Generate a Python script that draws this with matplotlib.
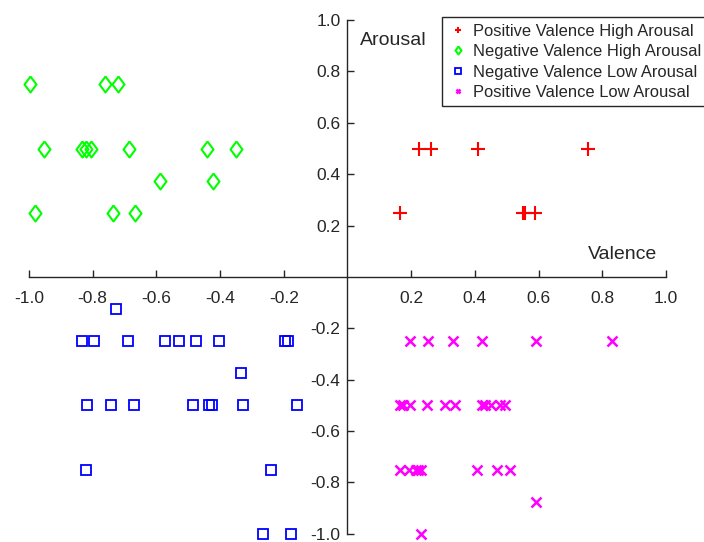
import numpy as np
import matplotlib
matplotlib.use("Agg")
import matplotlib.pyplot as plt

plt.rcParams['font.family'] = ['Liberation Sans', 'DejaVu Sans']

# Positive Valence High Arousal
pvha_x = [0.224, 0.262, 0.411, 0.755, 0.166, 0.551, 0.558, 0.588]
pvha_y = [0.5, 0.5, 0.5, 0.5, 0.25, 0.25, 0.25, 0.25]

# Negative Valence High Arousal
nvha_x = [-0.996, -0.760, -0.720, -0.952, -0.834, -0.821, -0.806, -0.686,
          -0.442, -0.349, -0.587, -0.423, -0.980, -0.736, -0.668]
nvha_y = [0.75, 0.75, 0.75, 0.5, 0.5, 0.5, 0.5, 0.5,
          0.5, 0.5, 0.375, 0.375, 0.25, 0.25, 0.25]

# Negative Valence Low Arousal
nvla_x = [-0.725,
          -0.834, -0.797, -0.690, -0.574, -0.530, -0.474, -0.402, -0.196, -0.185,
          -0.334,
          -0.816, -0.742, -0.669, -0.485, -0.434, -0.426, -0.329, -0.158,
          -0.821, -0.241,
          -0.264, -0.177]
nvla_y = [-0.125,
          -0.25, -0.25, -0.25, -0.25, -0.25, -0.25, -0.25, -0.25, -0.25,
          -0.375,
          -0.5, -0.5, -0.5, -0.5, -0.5, -0.5, -0.5, -0.5,
          -0.75, -0.75,
          -1.0, -1.0]

# Positive Valence Low Arousal
pvla_x = [0.197, 0.253, 0.332, 0.421, 0.592, 0.832,
          0.166, 0.176, 0.197, 0.249, 0.307, 0.338, 0.422, 0.432, 0.450, 0.478, 0.496,
          0.166, 0.192, 0.216, 0.223, 0.231, 0.408, 0.471, 0.509,
          0.591,
          0.232]
pvla_y = [-0.25, -0.25, -0.25, -0.25, -0.25, -0.25,
          -0.5, -0.5, -0.5, -0.5, -0.5, -0.5, -0.5, -0.5, -0.5, -0.5, -0.5,
          -0.75, -0.75, -0.75, -0.75, -0.75, -0.75, -0.75, -0.75,
          -0.875,
          -1.0]

tick_vals = [-1.0, -0.8, -0.6, -0.4, -0.2, 0.2, 0.4, 0.6, 0.8, 1.0]
tick_labels = ['-1.0', '-0.8', '-0.6', '-0.4', '-0.2', '0.2', '0.4', '0.6', '0.8', '1.0']

# MATLAB style diamond (a bit wider than matplotlib's thin diamond)
diamond = [(0, 1), (0.75, 0), (0, -1), (-0.75, 0), (0, 1)]

fig = plt.figure(figsize=(7.04, 5.42), dpi=100)
ax = fig.add_axes([0.041, 0.015, 0.905, 0.948])

ax.plot(pvha_x, pvha_y, '+', color='#FF0000', ms=9.5, mew=1.5, ls='none',
        clip_on=False, label='Positive Valence High Arousal')
ax.plot(nvha_x, nvha_y, marker=diamond, color='#00FF00', mfc='none', ms=11.5, mew=1.5,
        ls='none', clip_on=False, label='Negative Valence High Arousal')
ax.plot(nvla_x, nvla_y, 's', color='#0000FF', mfc='none', ms=7.5, mew=1.3, ls='none',
        clip_on=False, label='Negative Valence Low Arousal')
ax.plot(pvla_x, pvla_y, 'x', color='#FF00FF', ms=6.5, mew=1.8, ls='none',
        clip_on=False, label='Positive Valence Low Arousal')

ax.set_xlim(-1, 1)
ax.set_ylim(-1, 1)
for s in ['top', 'right']:
    ax.spines[s].set_visible(False)
for s in ['left', 'bottom']:
    ax.spines[s].set_position('zero')
    ax.spines[s].set_color('#262626')
    ax.spines[s].set_linewidth(1.0)

ax.set_xticks(tick_vals)
ax.set_xticklabels(tick_labels)
ax.set_yticks(tick_vals)
ax.set_yticklabels(tick_labels)
ax.tick_params(axis='x', direction='in', length=5, width=1, color='#262626',
               labelsize=12.5, labelcolor='#262626', pad=10)
ax.tick_params(axis='y', direction='in', length=5, width=1, color='#262626',
               labelsize=12.5, labelcolor='#262626', pad=5)

ax.text(0.04, 0.92, 'Arousal', fontsize=14, color='#262626', va='center', ha='left')
ax.text(0.756, 0.087, 'Valence', fontsize=14, color='#262626', va='center', ha='left')

leg = ax.legend(loc='upper left', bbox_to_anchor=(0.648, 1.005), fontsize=11.9,
                markerscale=0.5, handlelength=1.2, handletextpad=0.3,
                borderpad=0.38, labelspacing=0.33, fancybox=False, framealpha=1,
                edgecolor='#262626', borderaxespad=0)
leg.get_frame().set_linewidth(1.0)
for t in leg.get_texts():
    t.set_color('#262626')

fig.savefig('out.png', dpi=100)
